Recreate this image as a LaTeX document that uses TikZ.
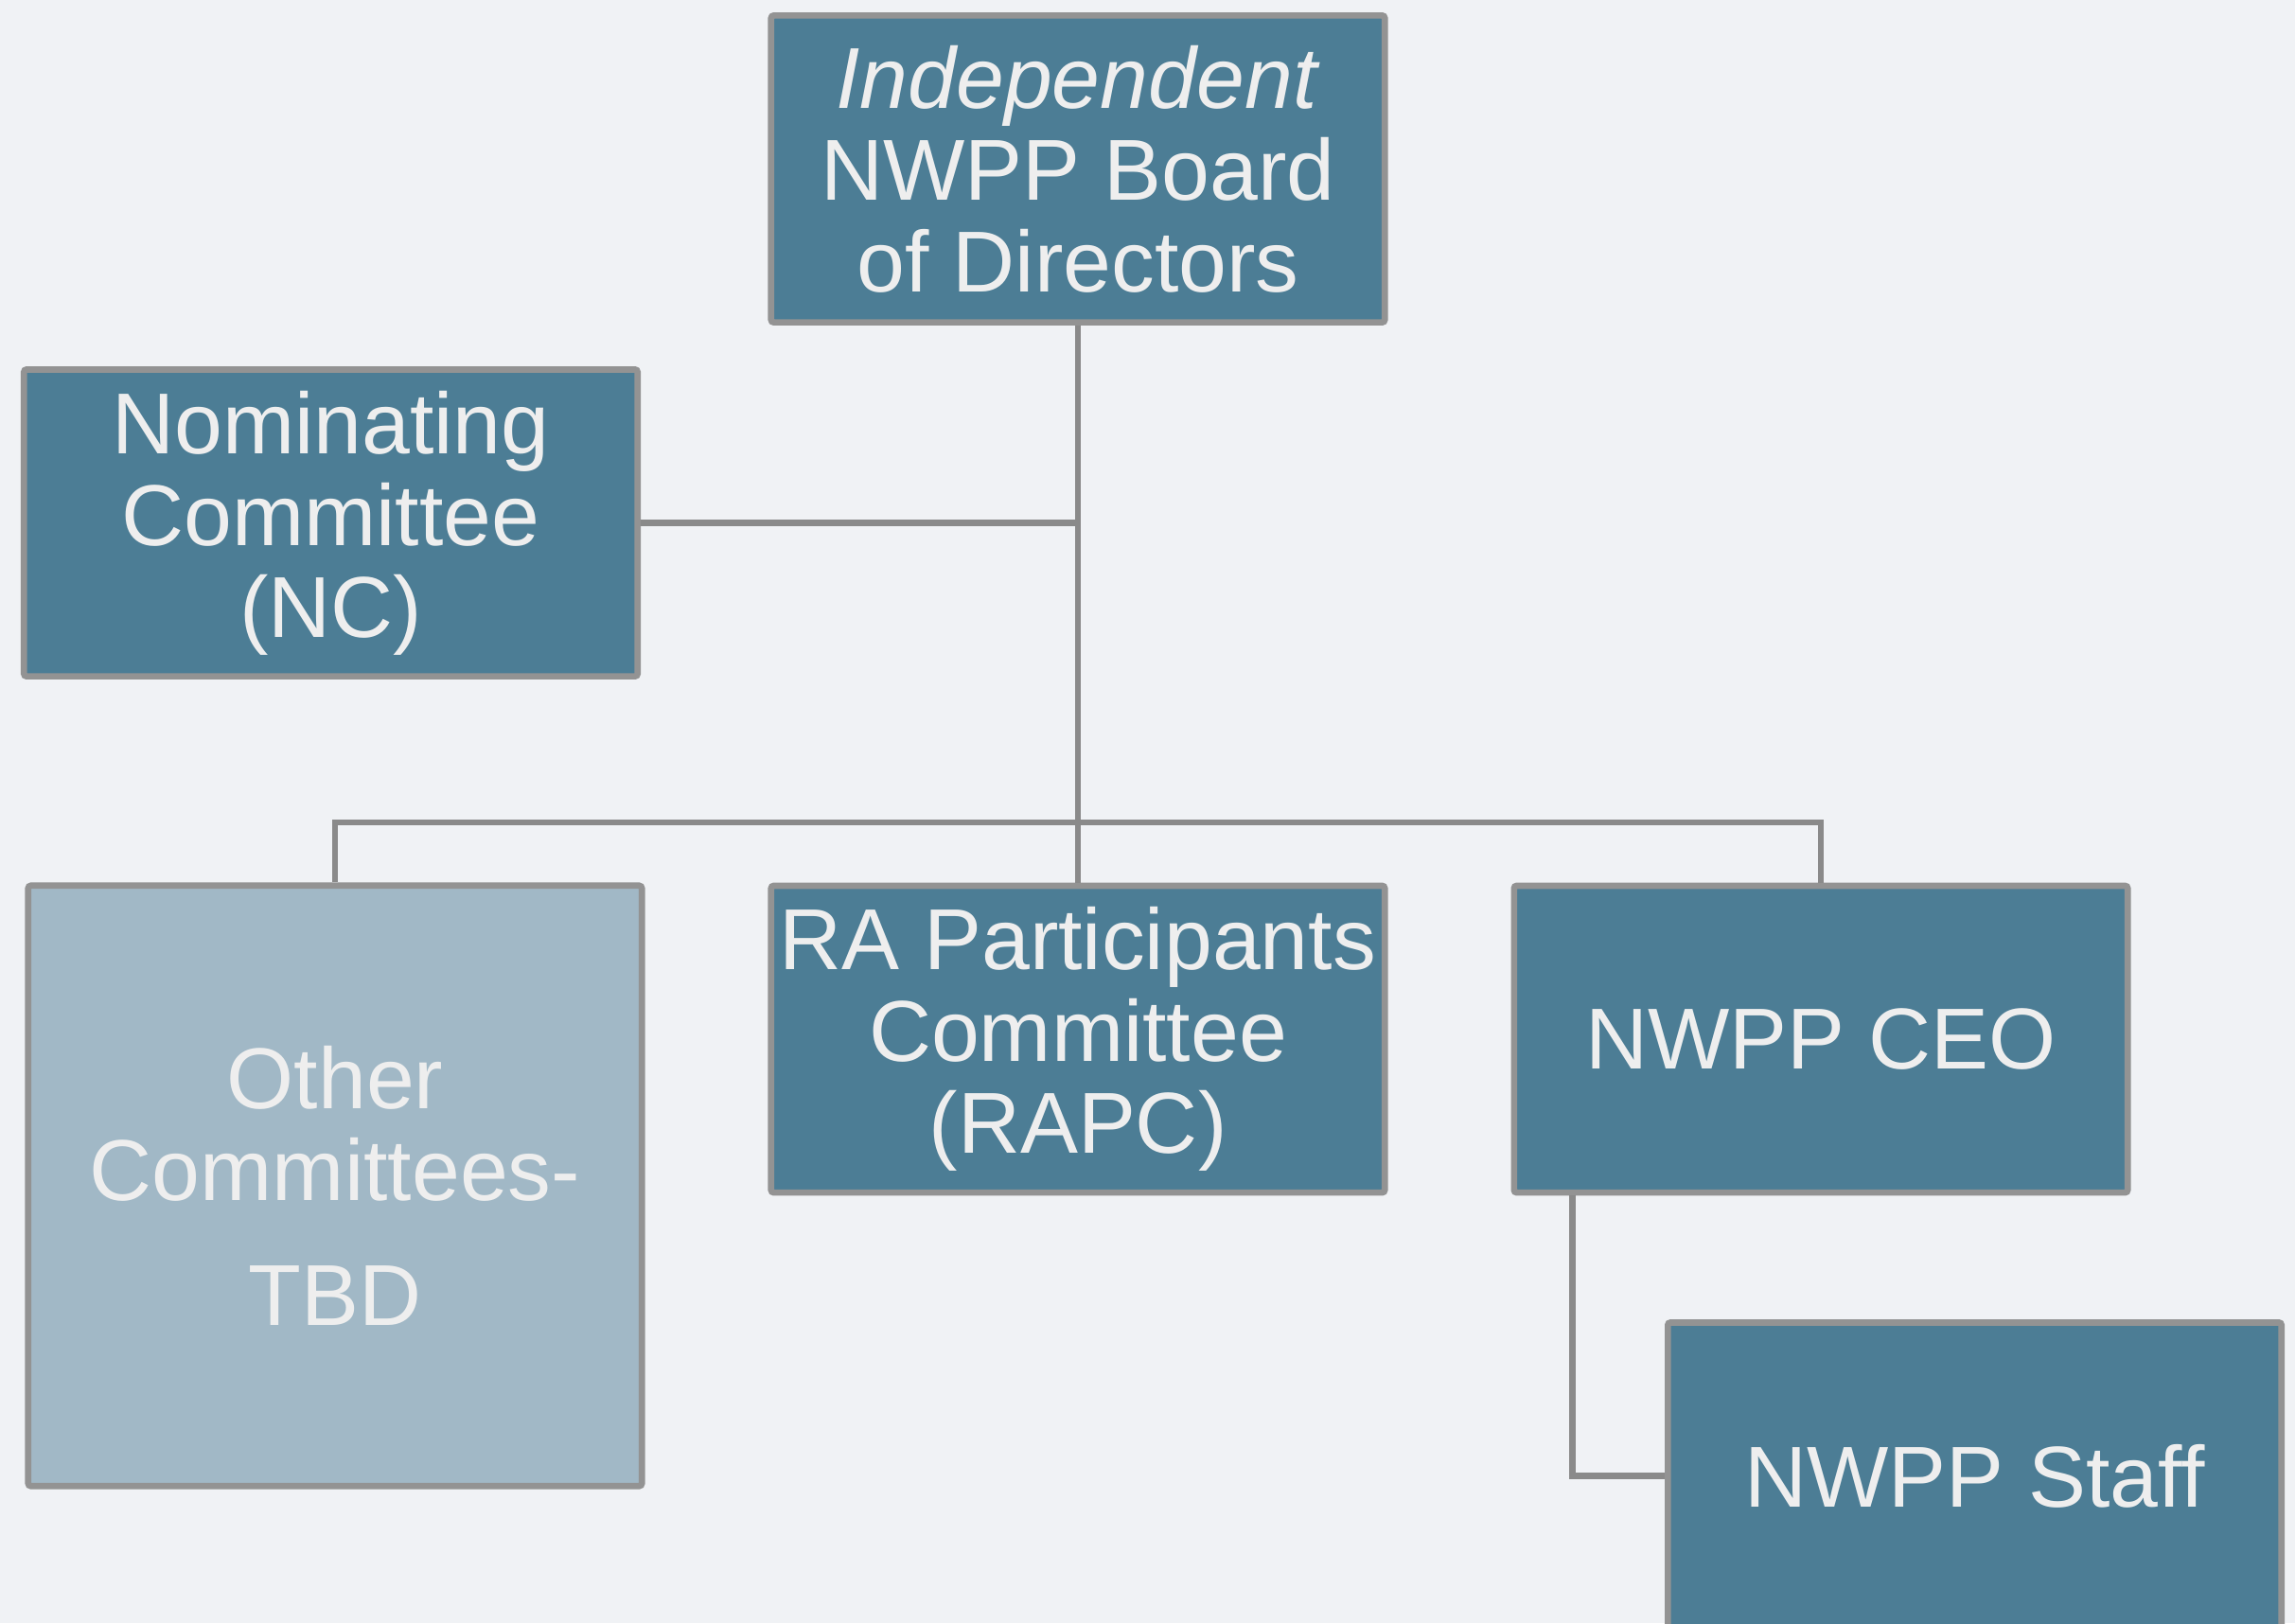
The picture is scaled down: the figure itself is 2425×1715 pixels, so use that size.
\documentclass[tikz,border=0pt]{standalone}
\usepackage{fontspec}
\setmainfont{Liberation Sans}
\usepackage{xcolor}
\usepackage{tikz}

\definecolor{bgcol}{HTML}{F0F2F5}
\definecolor{boxcol}{HTML}{4C7D95}
\definecolor{palecol}{HTML}{A1B8C6}
\definecolor{edgecol}{HTML}{939393}
\definecolor{linkcol}{HTML}{8A8A8A}
\definecolor{txtcol}{HTML}{EEEEEE}

\tikzset{
  orgbox/.style={draw=edgecol, line width=1.9pt, fill=boxcol, text=txtcol,
    rounded corners=0.8pt, inner sep=0pt, align=center,
    minimum width=6.48cm, minimum height=3.24cm,
    font=\fontsize{26}{27.6}\selectfont},
  palebox/.style={orgbox, fill=palecol, minimum height=6.34cm},
  link/.style={draw=linkcol, line width=1.9pt}
}

\begin{document}
\begin{tikzpicture}[x=0.01cm,y=-0.01cm]
  % Tlo
  \useasboundingbox (0,0) rectangle (2425,1715);
  \clip (0,0) rectangle (2425,1715);
  \fill[bgcol] (0,0) rectangle (2425,1715);

  % Zarzad
  \node[orgbox] (board) at (1139,178.5) {\textit{Independent}\\NWPP Board\\of Directors};

  % Komitety
  \node[orgbox] (nc) at (349.5,552.5) {Nominating\\Committee\\(NC)};
  \node[palebox] (other) at (354,1253) {Other\\Committees-\\[10pt]TBD};
  \node[orgbox] (rapc) at (1139,1098) {RA Participants\\Committee\\(RAPC)};

  % Kierownictwo
  \node[orgbox] (ceo) at (1924,1098) {NWPP CEO};
  \node[orgbox] (staff) at (2086.5,1559.5) {NWPP Staff};

  % Polaczenia
  \coordinate (bus) at (1139,869);
  \draw[link] (board.south) -- (rapc.north);
  \draw[link] (nc.east) -- (nc.east -| board.south);
  \draw[link] (other.north) |- (bus) -| (ceo.north);
  \draw[link] ([xshift=0.65cm]ceo.south west) |- (staff.west);
\end{tikzpicture}
\end{document}
